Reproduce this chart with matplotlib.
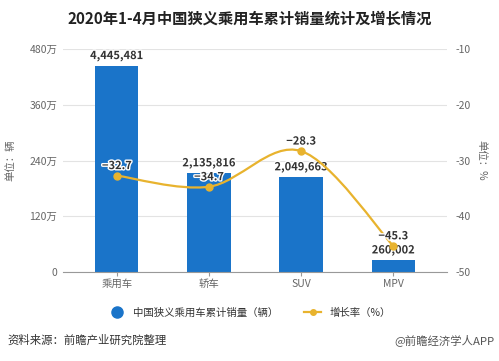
import numpy as np
import matplotlib
matplotlib.use("Agg")
import matplotlib.pyplot as plt
import matplotlib.patheffects as pe
from matplotlib.path import Path
from matplotlib.patches import PathPatch
from matplotlib.lines import Line2D

plt.rcParams['font.family'] = ['Noto Sans CJK SC', 'DejaVu Sans']

# data
categories = ["乘用车", "轿车", "SUV", "MPV"]
sales = [4445481, 2135816, 2049663, 260002]
growth = [-32.7, -34.7, -28.3, -45.3]
left_ticks = [0, 1200000, 2400000, 3600000, 4800000]
left_labels = ["0", "120万", "240万", "360万", "480万"]
right_ticks = [-50, -40, -30, -20, -10]

bar_color = "#1A74C9"
line_color = "#E8B32E"
text_color = "#333333"
tick_color = "#666666"

fig = plt.figure(figsize=(4.99, 3.61), dpi=100)
ax = fig.add_axes([0.126, 0.2465, 0.77, 0.6175])
x = np.arange(len(categories))

ax.bar(x, sales, width=0.47, color=bar_color, zorder=2)
ax.set_xlim(-0.585, 3.585)
ax.set_ylim(0, 4800000)
ax.set_yticks(left_ticks)
ax.set_yticklabels(left_labels)
ax.set_xticks(x)
ax.set_xticklabels(categories)
ax.grid(axis="y", color="#E3E3E3", linewidth=0.8, zorder=0)
for s in ["left", "right", "top"]:
    ax.spines[s].set_visible(False)
ax.spines["bottom"].set_color("#999999")
ax.tick_params(axis="y", length=0, pad=4, labelsize=7.5, labelcolor=tick_color)
ax.tick_params(axis="x", length=3, color="#999999", pad=2, labelsize=7.5, labelcolor=tick_color)
ax.set_ylabel("单位：辆", fontsize=7.5, color=tick_color, labelpad=10)

stroke = [pe.withStroke(linewidth=2, foreground="white")]
for i, v in enumerate(sales):
    ax.annotate("{:,}".format(v), (x[i], v), xytext=(0, 10), textcoords="offset pixels",
                ha="center", va="center", fontsize=8, fontweight="bold", color=text_color,
                path_effects=stroke, zorder=5)

ax2 = ax.twinx()
ax2.set_ylim(-50, -10)
ax2.set_yticks(right_ticks)
ax2.set_yticklabels([str(t) for t in right_ticks])
for s in ax2.spines.values():
    s.set_visible(False)
ax2.tick_params(axis="y", length=0, pad=6, labelsize=7.5, labelcolor=tick_color)
ax2.set_ylabel("单位：%", fontsize=7.5, color=tick_color, rotation=270, labelpad=11)

# smooth curve through the points (Catmull-Rom as Bezier)
pts = np.column_stack([x, growth]).astype(float)
ext = np.vstack([pts[0], pts, pts[-1]])
verts = [tuple(pts[0])]
codes = [Path.MOVETO]
for i in range(len(pts) - 1):
    p0, p1, p2, p3 = ext[i], ext[i + 1], ext[i + 2], ext[i + 3]
    c1 = p1 + (p2 - p0) / 6
    c2 = p2 - (p3 - p1) / 6
    verts += [tuple(c1), tuple(c2), tuple(p2)]
    codes += [Path.CURVE4] * 3
ax2.add_patch(PathPatch(Path(verts, codes), facecolor="none", edgecolor=line_color,
                        linewidth=1.6, zorder=3))
ax2.plot(x, growth, linestyle="none", marker="o", markersize=5, color=line_color, zorder=4)
for i, v in enumerate(growth):
    ax2.annotate("{:.1f}".format(v).replace("-", "−"), (x[i], v), xytext=(0, 10),
                 textcoords="offset pixels", ha="center", va="center", fontsize=8,
                 fontweight="bold", color=text_color, path_effects=stroke, zorder=6)

fig.text(0.5, 0.95, "2020年1-4月中国狭义乘用车累计销量统计及增长情况", ha="center", va="center",
         fontsize=11, fontweight="bold", color="#222222")

handles = [Line2D([], [], linestyle="none", marker="o", markersize=8, color=bar_color),
           Line2D([], [], color=line_color, linewidth=1.6, marker="o", markersize=4)]
fig.legend(handles, ["中国狭义乘用车累计销量（辆）", "增长率（%）"], loc="center",
           bbox_to_anchor=(0.5, 0.133), ncol=2, frameon=False, fontsize=7.5,
           handlelength=1.6, columnspacing=2.5, labelcolor=text_color)

fig.text(0.014, 0.058, "资料来源：前瞻产业研究院整理", ha="left", va="center", fontsize=8.2, color=text_color)
fig.text(0.99, 0.058, "@前瞻经济学人APP", ha="right", va="center", fontsize=8.2, color="#555555")

fig.savefig("out.png", dpi=100)
